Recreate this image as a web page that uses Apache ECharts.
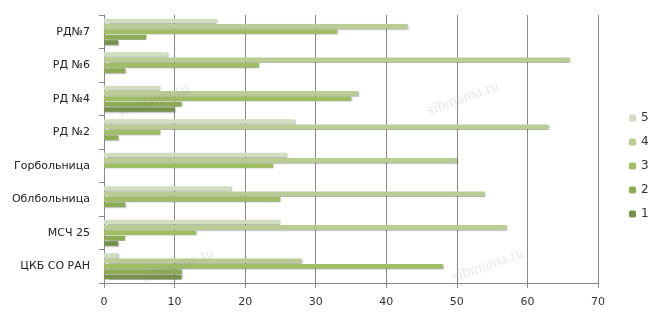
<!DOCTYPE html>
<html><head><meta charset="utf-8">
<script src="https://cdn.jsdelivr.net/npm/echarts@6/dist/echarts.min.js"></script>
<style>html,body{margin:0;padding:0;background:#fff}#c{width:658px;height:325px}</style>
</head><body><div id="c"></div>
<script>
const categories = ['ЦКБ СО РАН','МСЧ 25','Облбольница','Горбольница','РД №2','РД №4','РД №6','РД№7'];
const seriesNames = ['1','2','3','4','5'];
const s1 = [11, 2, 0, 0, 0, 10, 0, 2];
const s2 = [11, 3, 3, 0, 2, 11, 3, 6];
const s3 = [48, 13, 25, 24, 8, 35, 22, 33];
const s4 = [28, 57, 54, 50, 63, 36, 66, 43];
const s5 = [2, 25, 18, 26, 27, 8, 9, 16];
const xTicks = [0,10,20,30,40,50,60,70];
const colors = ['#76914a','#8dab52','#9fbd63','#b8cc94','#d2ddc0'];
const values = [s1,s2,s3,s4,s5];

const chart = echarts.init(document.getElementById('c'));
const font = 'DejaVu Sans';
const wm = (x,y)=>({type:'text',left:x,top:y,rotation:0.35,silent:true,z:100,
  style:{text:'sibmama.ru',fill:'rgba(120,120,120,0.18)',font:'16px "Liberation Serif"'}});
// draw series 5 first so it sits at the top of each band (as in the reference)
const order = [4,3,2,1,0];
chart.setOption({
  animation:false,
  grid:{left:104,right:60,top:15,bottom:42},
  legend:{orient:'vertical',left:624,top:107,itemWidth:7,itemHeight:7,itemGap:12,
    data:['5','4','3','2','1'],textStyle:{fontFamily:font,fontSize:12,color:'#333'}},
  xAxis:{type:'value',min:0,max:70,interval:10,
    axisLine:{show:true,lineStyle:{color:'#888'}},
    axisTick:{show:true,length:5,lineStyle:{color:'#888'}},
    splitLine:{show:true,lineStyle:{color:'#8a8a8a',width:1}},
    axisLabel:{margin:14,fontFamily:font,fontSize:11,color:'#333',
      formatter:v=>xTicks.includes(v)?String(v):''}},
  yAxis:{type:'category',data:categories,
    axisLine:{show:true,lineStyle:{color:'#888'}},
    axisTick:{show:true,length:5,lineStyle:{color:'#888'}},
    axisLabel:{margin:14,fontFamily:font,fontSize:11,color:'#222'}},
  graphic:[wm(115,80),wm(425,78),wm(450,245),wm(140,245)],
  series: order.map(i=>({
    name:seriesNames[i],type:'bar',data:values[i],barCategoryGap:'22%',barGap:'15%',
    itemStyle:{color:colors[i],
      shadowColor:'rgba(0,0,0,0.3)',shadowBlur:1.5,shadowOffsetX:1,shadowOffsetY:1}
  }))
});
</script></body></html>
